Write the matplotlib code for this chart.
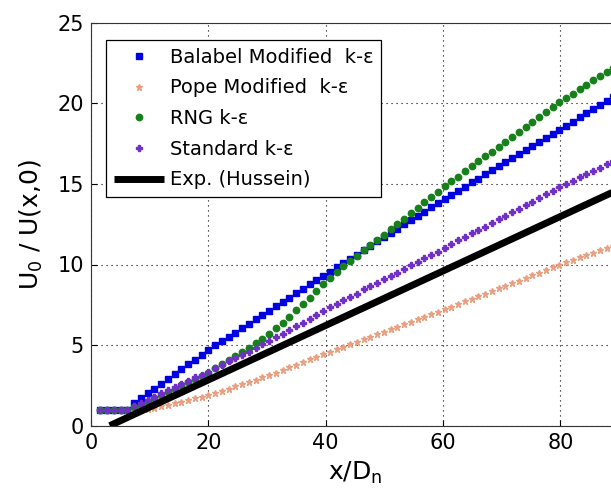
import numpy as np
import matplotlib.pyplot as plt

plt.rcParams['font.family'] = ['DejaVu Sans']
plt.rcParams['mathtext.default'] = 'regular'

# x/Dn stations of the computed profiles
x_pts = [1.6, 2.8, 3.9, 5.1, 6.2, 7.4, 8.5, 9.7, 10.8, 12.0,
         13.1, 14.3, 15.4, 16.6, 17.7, 18.9, 20.0, 21.2, 22.3, 23.5,
         24.6, 25.8, 26.9, 28.1, 29.2, 30.4, 31.5, 32.7, 33.8, 35.0,
         36.1, 37.3, 38.4, 39.6, 40.7, 41.9, 43.0, 44.2, 45.3, 46.5,
         47.6, 48.8, 49.9, 51.1, 52.2, 53.4, 54.5, 55.7, 56.8, 58.0,
         59.1, 60.3, 61.4, 62.6, 63.7, 64.9, 66.0, 67.2, 68.3, 69.5,
         70.6, 71.8, 72.9, 74.1, 75.2, 76.4, 77.5, 78.7, 79.8, 81.0,
         82.1, 83.3, 84.4, 85.6, 86.7, 87.9, 89.0, 90.2]

balabel = [1.0, 1.0, 1.0, 1.0, 1.0, 1.4, 1.7, 2.0, 2.3, 2.6,
           2.9, 3.2, 3.5, 3.8, 4.1, 4.4, 4.7, 4.98, 5.24, 5.52,
           5.78, 6.06, 6.32, 6.6, 6.86, 7.12, 7.40, 7.68, 7.94, 8.22,
           8.48, 8.76, 9.02, 9.30, 9.56, 9.84, 10.09, 10.37, 10.62, 10.90,
           11.15, 11.43, 11.68, 11.96, 12.21, 12.49, 12.74, 13.02, 13.27, 13.55,
           13.80, 14.08, 14.32, 14.58, 14.83, 15.09, 15.33, 15.60, 15.84, 16.10,
           16.34, 16.60, 16.85, 17.11, 17.35, 17.62, 17.86, 18.12, 18.36, 18.62,
           18.87, 19.13, 19.37, 19.64, 19.88, 20.14, 20.38, 20.65]

pope = [1.0, 1.0, 1.0, 1.0, 1.0, 1.0, 1.02, 1.05, 1.1, 1.2,
        1.3, 1.4, 1.5, 1.6, 1.7, 1.78, 1.88, 2.02, 2.16, 2.3,
        2.44, 2.58, 2.72, 2.86, 3.0, 3.15, 3.3, 3.47, 3.62, 3.79,
        3.95, 4.12, 4.27, 4.44, 4.6, 4.76, 4.9, 5.07, 5.22, 5.38,
        5.53, 5.69, 5.84, 6.0, 6.15, 6.31, 6.46, 6.62, 6.77, 6.93,
        7.08, 7.24, 7.39, 7.56, 7.71, 7.88, 8.03, 8.2, 8.36, 8.53,
        8.68, 8.85, 9.0, 9.17, 9.32, 9.49, 9.65, 9.82, 9.97, 10.13,
        10.28, 10.44, 10.58, 10.74, 10.88, 11.03, 11.17, 11.33]

rng = [1.0, 1.0, 1.0, 1.0, 1.0, 1.15, 1.3, 1.5, 1.7, 1.9,
       2.1, 2.3, 2.5, 2.7, 2.9, 3.1, 3.3, 3.55, 3.8, 4.05,
       4.3, 4.6, 4.85, 5.15, 5.4, 5.7, 6.05, 6.4, 6.75, 7.15,
       7.55, 7.95, 8.35, 8.8, 9.15, 9.55, 9.9, 10.2, 10.55, 10.9,
       11.2, 11.55, 11.85, 12.2, 12.5, 12.85, 13.2, 13.5, 13.85, 14.2,
       14.5, 14.85, 15.15, 15.45, 15.8, 16.1, 16.4, 16.7, 17.0, 17.3,
       17.6, 17.9, 18.2, 18.5, 18.85, 19.15, 19.45, 19.75, 20.05, 20.35,
       20.6, 20.9, 21.15, 21.45, 21.7, 21.95, 22.2, 22.45]

standard = [1.0, 1.0, 1.0, 1.0, 1.0, 1.2, 1.4, 1.6, 1.8, 2.0,
            2.2, 2.4, 2.6, 2.8, 3.0, 3.15, 3.35, 3.55, 3.75, 4.0,
            4.2, 4.4, 4.6, 4.85, 5.05, 5.25, 5.5, 5.7, 5.95, 6.2,
            6.4, 6.65, 6.85, 7.1, 7.35, 7.55, 7.8, 8.0, 8.2, 8.45,
            8.65, 8.85, 9.1, 9.3, 9.5, 9.75, 9.95, 10.15, 10.4, 10.6,
            10.8, 11.05, 11.25, 11.5, 11.7, 11.95, 12.15, 12.35, 12.6, 12.8,
            13.0, 13.25, 13.45, 13.7, 13.9, 14.15, 14.35, 14.55, 14.8, 15.0,
            15.2, 15.4, 15.6, 15.8, 16.0, 16.25, 16.45, 16.65]

# experimental correlation (Hussein)
exp_x = [3.2, 90.2]
exp_y = [0.0, 14.7]

fig = plt.figure(figsize=(6.11, 4.91), dpi=100)
ax = fig.add_axes([91/611, 65.3/491, 528/611, 403/491])

ax.plot(x_pts, balabel, 's', color='#0000e0', ms=4.6, mec='#0000e0',
        label='Balabel Modified  k-ε')
ax.plot(x_pts, pope, '*', color='#e8a080', ms=4.5, mec='#e8a080',
        label='Pope Modified  k-ε')
ax.plot(x_pts, rng, 'o', color='#17801a', ms=4.6, mec='#17801a',
        label='RNG k-ε')
ax.plot(x_pts, standard, 'P', color='#7030c8', ms=4.3, mec='#7030c8',
        label='Standard k-ε')
ax.plot(exp_x, exp_y, '-', color='black', lw=5, solid_capstyle='butt',
        label='Exp. (Hussein)')

ax.set_xlim(0, 90)
ax.set_ylim(0, 25)
ax.set_xticks([0, 20, 40, 60, 80])
ax.set_yticks([0, 5, 10, 15, 20, 25])
ax.tick_params(direction='in', length=4, labelsize=15, pad=5)
ax.grid(True, color='black', linestyle=(0, (1, 3.5)), linewidth=0.8)
ax.set_axisbelow(True)
for s in ax.spines.values():
    s.set_color('#333333')

ax.set_xlabel('x/D$_n$', fontsize=18, labelpad=5)
ax.set_ylabel('U$_0$ / U(x,0)', fontsize=18, labelpad=9)

leg = ax.legend(loc='upper left', bbox_to_anchor=(0.028, 0.957),
                borderaxespad=0, fontsize=14, numpoints=1, fancybox=False,
                framealpha=1, edgecolor='black', handlelength=2.6,
                handletextpad=0.3, labelspacing=0.6, borderpad=0.4)
leg.get_frame().set_linewidth(0.9)

fig.savefig('out.png', dpi=100)
